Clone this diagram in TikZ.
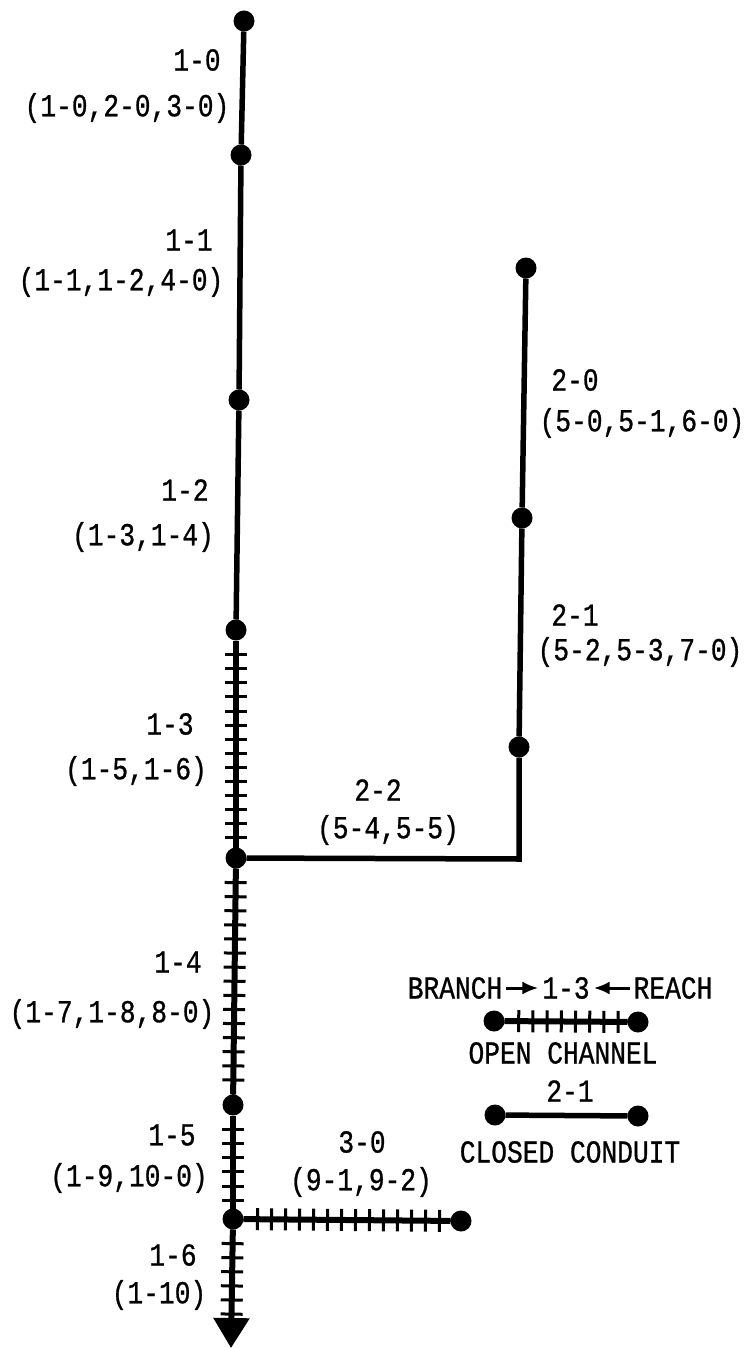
\documentclass[tikz,border=0pt]{standalone}
\usepackage{fontspec}
\newfontfamily\lblfont[FakeStretch=0.82,FakeBold=0.8]{Liberation Mono}
\usetikzlibrary{arrows.meta,decorations.pathreplacing}
\tikzset{
  lbl/.style={font=\lblfont\fontsize{32}{32}\selectfont,inner sep=1pt,outer sep=3pt,text=black},
  dot/.style={circle,fill=black,draw=none,minimum size=21pt,inner sep=0pt,outer sep=0pt},
  closed/.style={line width=5.5pt,draw=black},
  tickmarks/.style={decoration={ticks,segment length=#1,amplitude=11pt,pre length=#1,post length=4pt},line width=3pt,decorate,draw=black},
  openmain/.style={line width=6pt,draw=black},
  flowtip/.style={-{Triangle[width=35pt,length=30pt]},line width=6pt,draw=black},
  smallarrow/.style={-{Latex[length=16pt,width=13pt]},line width=3pt,draw=black}
}
\begin{document}
\begin{tikzpicture}[x=1pt,y=-1pt]
\useasboundingbox (0,0) rectangle (746,1348);
\fill[white] (0,0) rectangle (746,1348);
% junction dots
\node[dot] (a0) at (244,21) {};
\node[dot] (a1) at (241,155) {};
\node[dot] (a2) at (239,400) {};
\node[dot] (a3) at (236,630) {};
\node[dot] (a4) at (236,858) {};
\node[dot] (a5) at (233,1105) {};
\node[dot] (a6) at (233,1219) {};
\coordinate (aend) at (231,1348);
\node[dot] (b0) at (526,268) {};
\node[dot] (b1) at (522,518) {};
\node[dot] (b2) at (519,747) {};
\coordinate (bc) at (519,859);
\node[dot] (c0) at (461,1221) {};
\node[dot] (l1) at (494,1021) {};
\node[dot] (l2) at (638,1022) {};
\node[dot] (l3) at (495,1115) {};
\node[dot] (l4) at (638,1116) {};
% closed conduits
\draw[closed] (a0) -- (a1);
\draw[closed] (a1) -- (a2);
\draw[closed] (a2) -- (a3);
\draw[closed] (b0) -- (b1);
\draw[closed] (b1) -- (b2);
\draw[closed,line join=miter] (b2) -- (bc) -- (a4);
\draw[closed] (l3) -- (l4);
% open channels
\draw[openmain] (a3) -- (a4);
\draw[tickmarks=14.1pt] (a3) -- (a4);
\draw[openmain] (a4) -- (a5);
\draw[tickmarks=14.1pt] (a4) -- (a5);
\draw[openmain] (a5) -- (a6);
\draw[tickmarks=14.1pt] (a5) -- (a6);
\draw[flowtip] (a6) -- (aend);
\path (a6) -- (aend) coordinate[pos=0.77] (aticks);
\draw[tickmarks=14.1pt] (a6) -- (aticks);
\draw[openmain] (a6) -- (c0);
\draw[tickmarks=14pt] (a6) -- (c0);
\draw[openmain] (l1) -- (l2);
\draw[tickmarks=14.2pt] (l1) -- (l2);
% labels
\node[lbl] (t10) at (197,60) {1-0};
\node[lbl] (t10s) at (127,108) {(1-0,2-0,3-0)};
\node[lbl] (t11) at (189,240) {1-1};
\node[lbl] (t11s) at (121,282) {(1-1,1-2,4-0)};
\node[lbl] (t12) at (185,490) {1-2};
\node[lbl] (t12s) at (143,537) {(1-3,1-4)};
\node[lbl] (t13) at (170,724) {1-3};
\node[lbl] (t13s) at (136,771) {(1-5,1-6)};
\node[lbl] (t14) at (178,962) {1-4};
\node[lbl] (t14s) at (112,1014) {(1-7,1-8,8-0)};
\node[lbl] (t15) at (172,1135) {1-5};
\node[lbl] (t15s) at (129,1178) {(1-9,10-0)};
\node[lbl] (t16) at (173,1255) {1-6};
\node[lbl] (t16s) at (159,1295) {(1-10)};
\node[lbl] (t20) at (575,380) {2-0};
\node[lbl] (t20s) at (642,423) {(5-0,5-1,6-0)};
\node[lbl] (t21) at (575,615) {2-1};
\node[lbl] (t21s) at (640,652) {(5-2,5-3,7-0)};
\node[lbl] (t22) at (378,790) {2-2};
\node[lbl] (t22s) at (388,830) {(5-4,5-5)};
\node[lbl] (t30) at (362,1142) {3-0};
\node[lbl] (t30s) at (361,1182) {(9-1,9-2)};
% legend
\node[lbl] (branch) at (455,988) {BRANCH};
\node[lbl] (n13) at (566,988) {1-3};
\node[lbl] (reach) at (673,988) {REACH};
\draw[smallarrow] (branch) -- (n13);
\draw[smallarrow] (reach) -- (n13);
\node[lbl] (open) at (563,1053) {OPEN CHANNEL};
\node[lbl] (n21) at (570,1091) {2-1};
\node[lbl] (cc) at (570,1152) {CLOSED CONDUIT};
\end{tikzpicture}
\end{document}
